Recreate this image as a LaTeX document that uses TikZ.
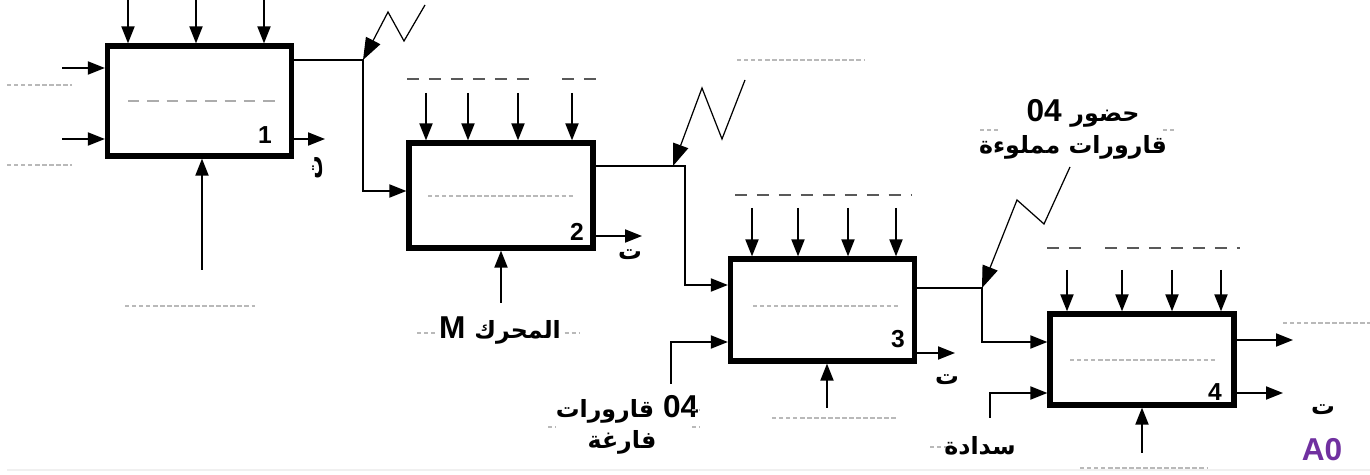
\documentclass[tikz,border=0pt]{standalone}
\usepackage{fontspec}
\setmainfont{Liberation Sans}
\newfontfamily\arabicfont[Script=Arabic]{DejaVu Sans}
\TeXXeTstate=1
\usetikzlibrary{arrows.meta}
\definecolor{idefpurple}{RGB}{112,48,160}
%% Arabic words, a bit smaller than the Latin ones
\newcommand{\artext}[1]{{\arabicfont\fontsize{13.5}{16}\selectfont\beginR #1\endR}}
\tikzset{
  box/.style={draw, line width=3pt, minimum width=3.68cm, inner sep=0pt, fill=white},
  flow/.style={line width=1.1pt, -{Triangle[length=0.34cm,width=0.26cm]}},
  bolt/.style={line width=0.7pt, -{Triangle[length=0.44cm,width=0.32cm]}},
  blank/.style={gray!55, line width=0.9pt, dash pattern=on 2.5pt off 1.5pt},
  slot/.style={gray!70!black, line width=1.6pt, dash pattern=on 7pt off 5.5pt},
  lbl/.style={font=\fontsize{18}{20}\selectfont\bfseries, inner sep=1pt},
  num/.style={font=\fontsize{14}{16}\selectfont\bfseries, inner sep=0pt},
}
\begin{document}
\begin{tikzpicture}[x=0.02cm, y=-0.02cm]
  \useasboundingbox (0,0) rectangle (1370,475);
  %% Activity boxes
  \node[box, minimum height=2.2cm] (b1) at (199.5,101) {};
  \node[box, minimum height=2.1cm] (b2) at (501,195.5) {};
  \node[box, minimum height=2.04cm] (b3) at (822.5,310) {};
  \node[box, minimum height=1.82cm] (b4) at (1142,359.5) {};
  \node[num] (n1) at (265,135) {1};
  \node[num] (n2) at (577,232) {2};
  \node[num] (n3) at (898,339) {3};
  \node[num] (n4) at (1215,392) {4};
  %% Blanks inside the boxes
  \draw[gray!65, line width=1.6pt, dash pattern=on 6.5pt off 4.5pt] (128,101) -- (276,101);
  \draw[blank] (428,196) -- (573,196);
  \draw[blank] (753,306) -- (899,306);
  \draw[blank] (1070,360) -- (1215,360);
  %% Box 1
  \foreach \x in {128,196,264}
    \draw[flow] (\x,0) -- (\x,0 |- b1.north);
  \foreach \y in {68,139}
    \draw[flow] (62,\y) -- (b1.west |- 0,\y);
  \draw[blank] (7,85) -- (72,85);
  \draw[blank] (7,165) -- (72,165);
  \coordinate (o1) at (325,139);
  \draw[flow] (b1.east |- o1) -- (o1);
  \node[lbl, rotate=90] (t1) at (318,168) {\artext{ت}};
  \coordinate (m1) at (202,270);
  \draw[flow] (m1) -- (m1 |- b1.south);
  \draw[blank] (125,306) -- (255,306);
  %% Box 1 -> Box 2
  \coordinate (j1) at (363,60);
  \draw[flow] (b1.east |- j1) -- (j1) |- (b2.west |- 0,191);
  \draw[bolt] (425,5) -- (404,41) -- (388,12) -- (j1);
  %% Box 2
  \draw[slot] (407,79) -- (533,79);
  \draw[slot] (562,79) -- (597,79);
  \foreach \x in {426,468,518,572}
    \draw[flow] (\x,93) -- (\x,0 |- b2.north);
  \coordinate (o2) at (642,236);
  \draw[flow] (b2.east |- o2) -- (o2);
  \node[lbl] (t2) at (630,255) {\artext{ت}};
  \draw[blank] (417,333) -- (580,333);
  \node[lbl, fill=white] (motor) at (500,331) {M \artext{المحرك}};
  \coordinate (m2) at (501,303);
  \draw[flow] (m2) -- (m2 |- b2.south);
  %% Box 2 -> Box 3
  \coordinate (j2) at (673,166);
  \draw[flow] (b2.east |- j2) -| (685,285) -- (b3.west |- 0,285);
  \draw[bolt] (745,80) -- (722,139) -- (702,88) -- (j2);
  \draw[blank] (737,60) -- (865,60);
  %% Box 3
  \draw[slot] (735,195) -- (912,195);
  \foreach \x in {752,798,848,896}
    \draw[flow] (\x,208) -- (\x,0 |- b3.north);
  \coordinate (i3) at (671,384);
  \draw[flow] (i3) |- (b3.west |- 0,342);
  \node[lbl] (empty1) at (627,409) {\artext{قارورات} 04};
  \node[lbl] (empty2) at (622,442) {\artext{فارغة}};
  \draw[blank] (692,410) -- (700,410);
  \draw[blank] (548,427) -- (556,427);
  \draw[blank] (692,427) -- (700,427);
  \coordinate (o3) at (955,353);
  \draw[flow] (b3.east |- o3) -- (o3);
  \node[lbl] (t3) at (947,380) {\artext{ت}};
  \coordinate (m3) at (827,408);
  \draw[flow] (m3) -- (m3 |- b3.south);
  \draw[blank] (772,418) -- (898,418);
  %% Box 3 -> Box 4
  \coordinate (j3) at (982,288);
  \draw[flow] (b3.east |- j3) -- (j3) |- (b4.west |- 0,342);
  \draw[bolt] (1070,167) -- (1044,224) -- (1017,200) -- (j3);
  \node[lbl] (full1) at (1083,113) {04 \artext{حضور}};
  \node[lbl] (full2) at (1073,147) {\artext{قارورات مملوءة}};
  \draw[blank] (980,130) -- (998,130);
  \draw[blank] (1163,130) -- (1177,130);
  %% Box 4
  \draw[slot] (1047,248) -- (1082,248);
  \draw[slot] (1105,248) -- (1240,248);
  \foreach \x in {1067,1122,1172,1221}
    \draw[flow] (\x,270) -- (\x,0 |- b4.north);
  \coordinate (o4) at (1293,340);
  \coordinate (o5) at (1283,393);
  \draw[flow] (b4.east |- o4) -- (o4);
  \draw[flow] (b4.east |- o5) -- (o5);
  \draw[blank] (1283,323) -- (1370,323);
  \node[lbl] (t4) at (1323,410) {\artext{ت}};
  \coordinate (i4) at (990,418);
  \draw[flow] (i4) |- (b4.west |- o5);
  \draw[blank] (930,447) -- (952,447);
  \node[lbl] (cap) at (980,446) {\artext{سدادة}};
  \coordinate (m4) at (1142,453);
  \draw[flow] (m4) -- (m4 |- b4.south);
  \draw[blank] (1080,468) -- (1207,468);
  %% Sheet
  \draw[gray!12, line width=0.8pt] (7,470) -- (1370,470);
  \node[font=\fontsize{18}{20}\selectfont\bfseries, text=idefpurple] (sheet) at (1322,450) {A0};
\end{tikzpicture}
\end{document}
